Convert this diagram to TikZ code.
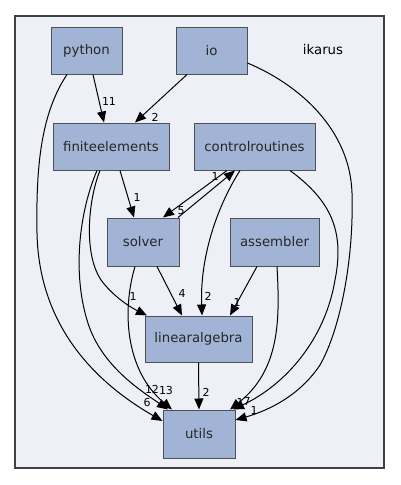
\documentclass[tikz,border=0pt]{standalone}
\usepackage{fontspec}
\setmainfont{DejaVu Sans}
\usetikzlibrary{arrows.meta,calc}
\definecolor{clfill}{HTML}{EDF0F7}
\definecolor{clline}{HTML}{404040}
\definecolor{ndfill}{HTML}{A2B4D6}
\definecolor{ndline}{HTML}{505050}
\tikzset{
  dirbox/.style={draw=ndline,fill=ndfill,line width=1pt,inner sep=0pt,font=\fontsize{13.3}{16}\selectfont,text=black!85},
  dep/.style={line width=1pt,-{Triangle[length=11pt,width=9pt]}},
  lbl/.style={font=\fontsize{11}{12}\selectfont,inner sep=0pt}
}
\begin{document}
\begin{tikzpicture}[x=1pt,y=-1pt]
\useasboundingbox (0,0) rectangle (400,485);
\draw[clline,fill=clfill,line width=2pt] (15,16) rectangle (384,468);
\node[font=\fontsize{13.3}{16}\selectfont] (title) at (323,50) {ikarus};
\node[dirbox,minimum width=71pt,minimum height=47pt] (python) at (86.5,50.5) {python};
\node[dirbox,minimum width=71pt,minimum height=47pt] (io) at (211.5,50.5) {io};
\node[dirbox,minimum width=116pt,minimum height=47pt] (fe) at (111,146.5) {finiteelements};
\node[dirbox,minimum width=121pt,minimum height=47pt] (cr) at (254.5,146.5) {controlroutines};
\node[dirbox,minimum width=72pt,minimum height=48pt] (solver) at (143,242) {solver};
\node[dirbox,minimum width=89pt,minimum height=48pt] (asm) at (274.5,242) {assembler};
\node[dirbox,minimum width=107pt,minimum height=46pt] (la) at (198.5,339) {linearalgebra};
\node[dirbox,minimum width=72pt,minimum height=48pt] (utils) at (199,434) {utils};

% python -> finiteelements
\draw[dep] ([xshift=6.5pt]python.south) -- ([xshift=-7pt]fe.north);
\node[lbl] (l1) at (109,101) {11};
% io -> finiteelements
\draw[dep] ([xshift=-24.5pt]io.south) -- ([xshift=24pt]fe.north);
\node[lbl] (l2) at (155,117) {2};
% python -> utils
\draw[dep] ([xshift=-19.5pt]python.south) .. controls (40,115) and (36,170) .. (37,233)
   .. controls (39,330) and (100,385) .. ([yshift=13pt]utils.west);
\node[lbl] (l3) at (147,402) {6};
% io -> utils
\draw[dep] ([yshift=-12.5pt]io.east) .. controls (300,85) and (350,130) .. (352,193)
   .. controls (354,260) and (340,330) .. (320,365)
   .. controls (300,395) and (270,410) .. ([yshift=14pt]utils.east);
\node[lbl] (l4) at (254,410) {1};
% finiteelements -> solver
\draw[dep] ([xshift=9pt]fe.south) -- ([xshift=-9pt]solver.north);
\node[lbl] (l5) at (137,197) {1};
% finiteelements -> linearalgebra
\draw[dep] ([xshift=-11pt]fe.south) .. controls (88,200) and (82,260) .. (105,285)
   .. controls (118,300) and (132,308) .. ([xshift=-51.5pt]la.north);
\node[lbl] (l6) at (133,296) {1};
% finiteelements -> utils
\draw[dep] ([xshift=-14pt]fe.south) .. controls (80,210) and (72,270) .. (87,320)
   .. controls (100,365) and (140,390) .. ([xshift=-31pt]utils.north);
\node[lbl] (l7) at (152,389) {12};
% solver -> utils
\draw[dep] ([xshift=-8pt]solver.south) .. controls (122,310) and (125,370) .. ([xshift=-27pt]utils.north);
\node[lbl] (l8) at (166,390) {13};
% controlroutines -> solver
\draw[dep] ([xshift=-27.5pt]cr.south) -- ([xshift=20pt]solver.north);
\node[lbl] (l9) at (181,211) {5};
% solver -> controlroutines
\draw[dep] ([xshift=35pt]solver.north) -- ([xshift=-19.5pt]cr.south);
\node[lbl] (l10) at (215,176) {1};
% controlroutines -> linearalgebra
\draw[dep] ([xshift=-14.5pt]cr.south) .. controls (215,210) and (200,260) .. ([xshift=3.5pt]la.north);
\node[lbl] (l11) at (208,296) {2};
% controlroutines -> utils
\draw[dep] ([xshift=35.5pt]cr.south) .. controls (330,200) and (345,230) .. (335,280)
   .. controls (325,340) and (285,385) .. ([xshift=34pt]utils.north);
\node[lbl] (l12) at (247,401) {7};
% assembler -> linearalgebra
\draw[dep] ([xshift=-17.5pt]asm.south) -- ([xshift=31.5pt]la.north);
\node[lbl] (l13) at (237,302) {1};
% assembler -> utils
\draw[dep] ([xshift=2.5pt]asm.south) .. controls (280,320) and (280,370) .. ([xshift=31pt]utils.north);
\node[lbl] (l14) at (240,402) {1};
% solver -> linearalgebra
\draw[dep] ([xshift=14pt]solver.south) -- ([xshift=-16.5pt]la.north);
\node[lbl] (l15) at (182,293) {4};
% linearalgebra -> utils
\draw[dep] (la.south) -- (utils.north);
\node[lbl] (l16) at (206,392) {2};
\end{tikzpicture}
\end{document}
